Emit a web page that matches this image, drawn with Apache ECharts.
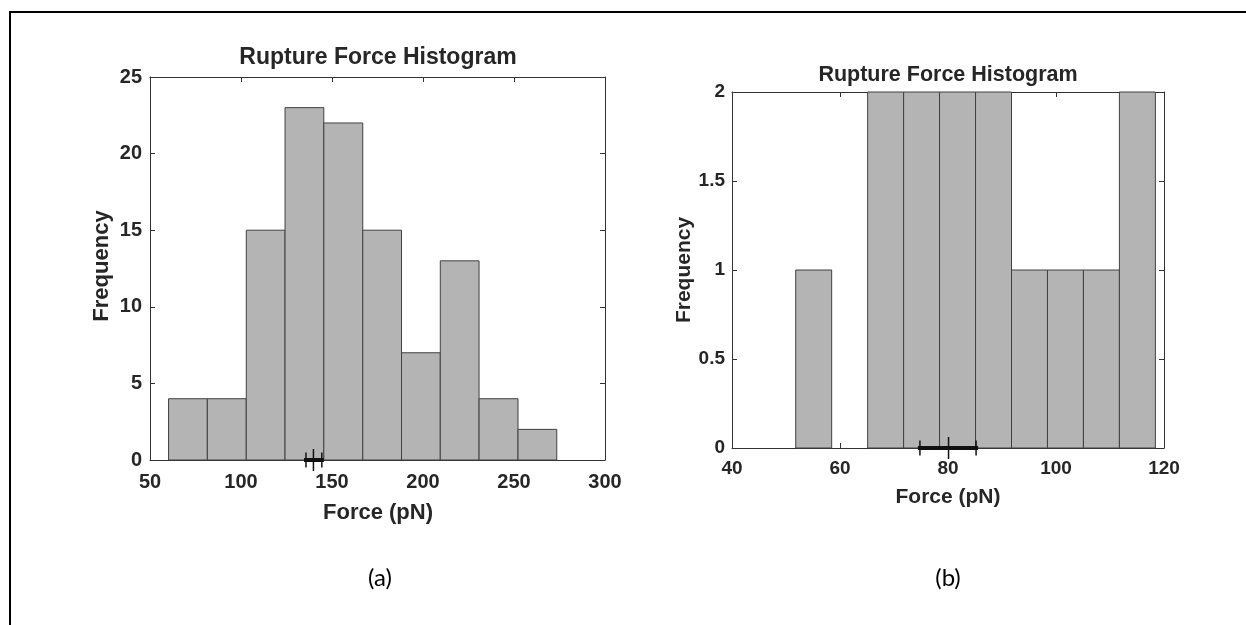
<!DOCTYPE html>
<html>
<head>
<meta charset="utf-8">
<script src="https://cdn.jsdelivr.net/npm/echarts@6/dist/echarts.min.js"></script>
<style>
  html, body { margin: 0; padding: 0; background: #fff; }
  #chart { width: 1246px; height: 625px; }
</style>
</head>
<body>
<div id="chart"></div>
<script>
// Panel (a): bin edges (pN) and counts
const edgesA = [60.2, 81.5, 102.9, 124.2, 145.5, 166.9, 188.2, 209.5, 230.8, 252.2, 273.5];
const countsA = [4, 4, 15, 23, 22, 15, 7, 13, 4, 2];
// Panel (a): mean and spread marker [mean, low, high]
const markerA = [139.8, 135.7, 144.4];

// Panel (b): bin edges (pN) and counts
const edgesB = [51.8, 58.46, 65.12, 71.78, 78.44, 85.1, 91.76, 98.42, 105.08, 111.74, 118.4];
const countsB = [1, 0, 2, 2, 2, 2, 1, 1, 1, 2];
const markerB = [80.1, 74.8, 85.2];

// Tick labels
const xTicksA = [50, 100, 150, 200, 250, 300];
const yTicksA = [0, 5, 10, 15, 20, 25];
const xTicksB = [40, 60, 80, 100, 120];
const yTicksB = [0, 0.5, 1, 1.5, 2];

const titleText = 'Rupture Force Histogram';
const xName = 'Force (pN)';
const yName = 'Frequency';
const captions = ['(a)', '(b)'];

const FONT = '"Liberation Sans", Arial, sans-serif';
const INK = '#262626';

function binData(edges, counts) {
  const out = [];
  counts.forEach((c, i) => { if (c > 0) out.push([edges[i], edges[i + 1], c]); });
  return out;
}

function renderBin(params, api) {
  const p0 = api.coord([api.value(0), 0]);
  const p1 = api.coord([api.value(1), api.value(2)]);
  return {
    type: 'rect',
    shape: { x: p0[0], y: p1[1], width: p1[0] - p0[0], height: p0[1] - p1[1] },
    style: { fill: '#b4b4b4', stroke: '#404040', lineWidth: 1 }
  };
}

function renderMarker(params, api) {
  const m = api.coord([api.value(0), 0]);
  const lo = api.coord([api.value(1), 0]);
  const hi = api.coord([api.value(2), 0]);
  const y = m[1];
  const s = { stroke: '#111', lineWidth: 1.5 };
  return {
    type: 'group',
    children: [
      { type: 'line', shape: { x1: lo[0], y1: y, x2: hi[0], y2: y }, style: { stroke: '#111', lineWidth: 4, lineCap: 'square' } },
      { type: 'line', shape: { x1: lo[0], y1: y - 7.5, x2: lo[0], y2: y + 7.5 }, style: s },
      { type: 'line', shape: { x1: hi[0], y1: y - 7.5, x2: hi[0], y2: y + 7.5 }, style: s },
      { type: 'line', shape: { x1: m[0], y1: y - 11, x2: m[0], y2: y + 11 }, style: s }
    ]
  };
}

const lineStyle = { color: '#333', width: 1 };
const tickStyle = { show: true, inside: true, length: 5, lineStyle: { color: '#333' } };

function xAxisPair(grid, ticks, fontSize, margin) {
  const base = {
    type: 'value', gridIndex: grid,
    min: ticks[0], max: ticks[ticks.length - 1], interval: ticks[1] - ticks[0],
    axisLine: { show: true, onZero: false, lineStyle: lineStyle },
    axisTick: tickStyle, splitLine: { show: false }
  };
  return [
    Object.assign({}, base, {
      axisLabel: { fontFamily: FONT, fontWeight: 'bold', fontSize: fontSize, color: INK, margin: margin }
    }),
    Object.assign({}, base, { position: 'top', axisLabel: { show: false } })
  ];
}
function yAxisPair(grid, ticks, fontSize, margin) {
  const base = {
    type: 'value', gridIndex: grid,
    min: ticks[0], max: ticks[ticks.length - 1], interval: ticks[1] - ticks[0],
    axisLine: { show: true, onZero: false, lineStyle: lineStyle },
    axisTick: tickStyle, splitLine: { show: false }
  };
  return [
    Object.assign({}, base, {
      axisLabel: { fontFamily: FONT, fontWeight: 'bold', fontSize: fontSize, color: INK, margin: margin }
    }),
    Object.assign({}, base, { position: 'right', axisLabel: { show: false } })
  ];
}

function label(text, x, y, size, rotate) {
  return {
    type: 'text', x: x, y: y, rotation: rotate ? Math.PI / 2 : 0, silent: true,
    style: {
      text: text, fontFamily: FONT, fontWeight: 'bold', fontSize: size, fill: INK,
      align: 'center', verticalAlign: 'middle'
    }
  };
}

const chart = echarts.init(document.getElementById('chart'), null, { renderer: 'canvas' });
chart.setOption({
  backgroundColor: '#ffffff',
  animation: false,
  grid: [
    { left: 150, top: 77, width: 455, height: 383 },
    { left: 732, top: 92, width: 432, height: 356 }
  ],
  xAxis: [].concat(xAxisPair(0, xTicksA, 20, 12), xAxisPair(1, xTicksB, 19, 11)),
  yAxis: [].concat(yAxisPair(0, yTicksA, 20, 8), yAxisPair(1, yTicksB, 19, 7)),
  series: [
    { type: 'custom', xAxisIndex: 0, yAxisIndex: 0, renderItem: renderBin,
      data: binData(edgesA, countsA), encode: { x: [0, 1], y: 2 }, z: 2 },
    { type: 'custom', xAxisIndex: 0, yAxisIndex: 0, renderItem: renderMarker, clip: false,
      data: [markerA], encode: { x: [0, 1, 2] }, z: 10 },
    { type: 'custom', xAxisIndex: 2, yAxisIndex: 2, renderItem: renderBin,
      data: binData(edgesB, countsB), encode: { x: [0, 1], y: 2 }, z: 2 },
    { type: 'custom', xAxisIndex: 2, yAxisIndex: 2, renderItem: renderMarker, clip: false,
      data: [markerB], encode: { x: [0, 1, 2] }, z: 10 }
  ],
  graphic: [
    { type: 'rect', shape: { x: 10, y: 12, width: 1400, height: 800 },
      style: { fill: 'none', stroke: '#000', lineWidth: 2 }, silent: true },
    // panel (a) titles
    label(titleText, 378, 58, 23),
    label(xName, 378, 513, 22),
    label(yName, 102, 266, 22, true),
    // panel (b) titles
    label(titleText, 948, 75, 21.5),
    label(xName, 948, 497, 21),
    label(yName, 684, 270, 21, true),
    // captions
    { type: 'text', x: 380, y: 578, silent: true,
      style: { text: captions[0], font: '24px Lato, "Open Sans", sans-serif', fill: '#000', align: 'center', verticalAlign: 'middle' } },
    { type: 'text', x: 948, y: 578, silent: true,
      style: { text: captions[1], font: '24px Lato, "Open Sans", sans-serif', fill: '#000', align: 'center', verticalAlign: 'middle' } }
  ]
});
</script>
</body>
</html>
